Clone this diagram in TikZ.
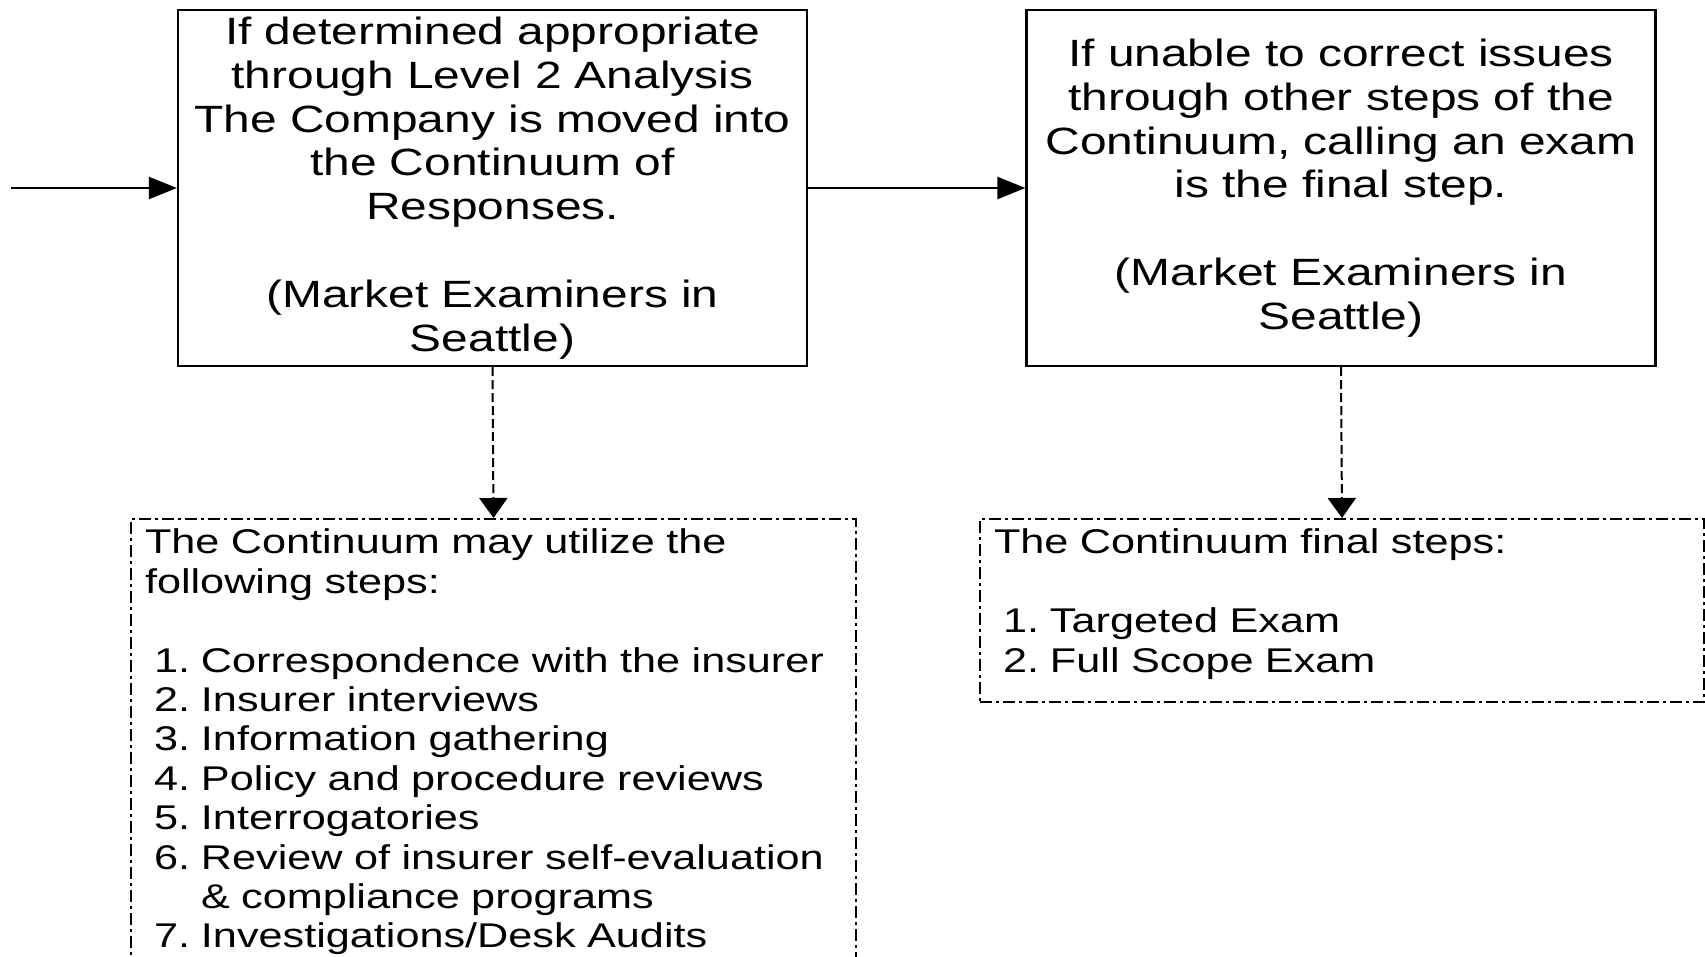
\documentclass[tikz,border=0pt]{standalone}
\usepackage{fontspec}
\setmainfont[FakeStretch=1.26]{Liberation Sans}
\usetikzlibrary{arrows.meta}

\tikzset{
  stagebox/.style={draw, line width=2.2pt, align=center, minimum width=629pt, minimum height=356pt,
    font=\fontsize{38}{43.8}\selectfont},
  listbox/.style={draw, line width=2pt, dash pattern=on 12pt off 4pt on 3pt off 4pt,
    align=left, anchor=north west, inner xsep=14pt, inner ysep=10pt,
    font=\fontsize{34.3}{39.4}\selectfont},
  flow/.style={line width=2.2pt, -{Triangle[length=28pt,width=22pt]}},
  drop/.style={line width=2pt, dash pattern=on 9pt off 4pt, -{Triangle[length=20pt,width=28pt]}}
}
\newcommand{\numitem}[2]{\hspace*{9pt}\makebox[47pt][l]{#1.}#2}

\begin{document}
\begin{tikzpicture}[x=1pt, y=-1pt]
  \useasboundingbox (0,0) rectangle (1705,956);
  \clip (0,0) rectangle (1705,956);
  % Level 2 result and exam
  \node[stagebox] (level2) at (492.5,188) {If determined appropriate\\ through Level 2 Analysis\\ The Company is moved into\\ the Continuum of\\ Responses.\\[43.8pt] (Market Examiners in\\ Seattle)};
  \node[stagebox] (exam) at (1341,188) {If unable to correct issues\\ through other steps of the\\ Continuum, calling an exam\\ is the final step.\\[43.8pt] (Market Examiners in\\ Seattle)};
  % Steps of the continuum
  \node[listbox, text width=697pt] (steps) at (130,518) {The Continuum may utilize the\\ following steps:\\[39.4pt]
    \numitem{1}{Correspondence with the insurer}\\
    \numitem{2}{Insurer interviews}\\
    \numitem{3}{Information gathering}\\
    \numitem{4}{Policy and procedure reviews}\\
    \numitem{5}{Interrogatories}\\
    \numitem{6}{Review of insurer self-evaluation}\\
    \hspace*{56pt}\& compliance programs\\
    \numitem{7}{Investigations/Desk Audits\rule[-40pt]{0pt}{40pt}}};
  \node[listbox, text width=696pt] (final) at (979,518) {The Continuum final steps:\\[39.4pt]
    \numitem{1}{Targeted Exam}\\
    \numitem{2}{Full Scope Exam\rule[-20pt]{0pt}{20pt}}};
  % Arrows
  \coordinate (entry) at (11,188);
  \draw[flow] (entry) -- (level2.west);
  \draw[flow] (level2.east) -- (exam.west);
  \draw[drop] (level2.south) -- (steps.north);
  \draw[drop] (exam.south) -- (final.north);
\end{tikzpicture}
\end{document}
